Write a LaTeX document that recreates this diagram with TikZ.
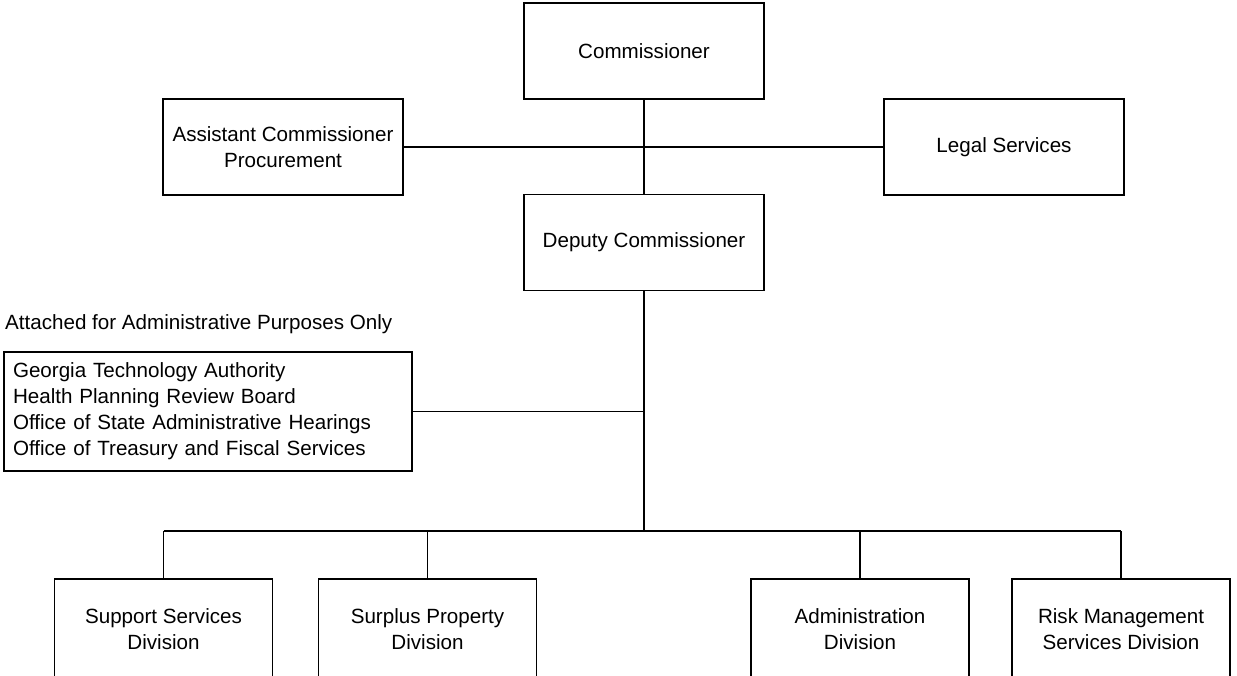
\documentclass[tikz,border=0pt]{standalone}
\usepackage{fontspec}
\setmainfont{Liberation Sans}
\begin{document}
\begin{tikzpicture}[x=1pt,y=-1pt,
  every node/.style={font=\fontsize{20.6}{26}\selectfont},
  box/.style={draw,line width=1.6pt,minimum width=240pt,minimum height=96pt,align=center,inner sep=0pt},
  divbox/.style={draw,line width=1.6pt,minimum width=218pt,minimum height=100pt,align=center,inner sep=0pt},
  conn/.style={line width=1.6pt}]
\clip (0,0) rectangle (1237,675);
\fill[white] (0,0) rectangle (1237,675);
\node[box] (comm) at (644,51) {Commissioner};
\node[box] (dep) at (644,242.5) {Deputy Commissioner};
\node[box] (asst) at (283,147) {Assistant Commissioner\\Procurement};
\node[box] (legal) at (1004,147) {Legal Services};
\node[anchor=west,inner sep=0pt] (att) at (5,324) {Attached for Administrative Purposes Only};
\node[draw,line width=1.6pt,minimum width=408pt,minimum height=119pt,text width=390pt,inner xsep=9pt,inner ysep=0pt,align=left] (attbox) at (208,411.5)
  {Georgia Technology Authority\\Health Planning Review Board\\Office of State Administrative Hearings\\Office of Treasury and Fiscal Services};
\node[divbox] (supp) at (163.5,629) {Support Services\\Division};
\node[divbox] (surp) at (427.5,629) {Surplus Property\\Division};
\node[divbox] (admin) at (860,629) {Administration\\Division};
\node[divbox] (risk) at (1121,629) {Risk Management\\Services Division};
\coordinate (bus) at (644,531);
\draw[conn] (comm.south) -- (dep.north);
\draw[conn] (asst.east) -- (legal.west);
\draw[conn] (dep.south) -- (bus);
\draw[conn] (attbox.east) -- (dep.south |- attbox.east);
\draw[conn] (supp.north |- bus) -- (risk.north |- bus);
\draw[conn] (supp.north) -- (supp.north |- bus);
\draw[conn] (surp.north) -- (surp.north |- bus);
\draw[conn] (admin.north) -- (admin.north |- bus);
\draw[conn] (risk.north) -- (risk.north |- bus);
\end{tikzpicture}
\end{document}
